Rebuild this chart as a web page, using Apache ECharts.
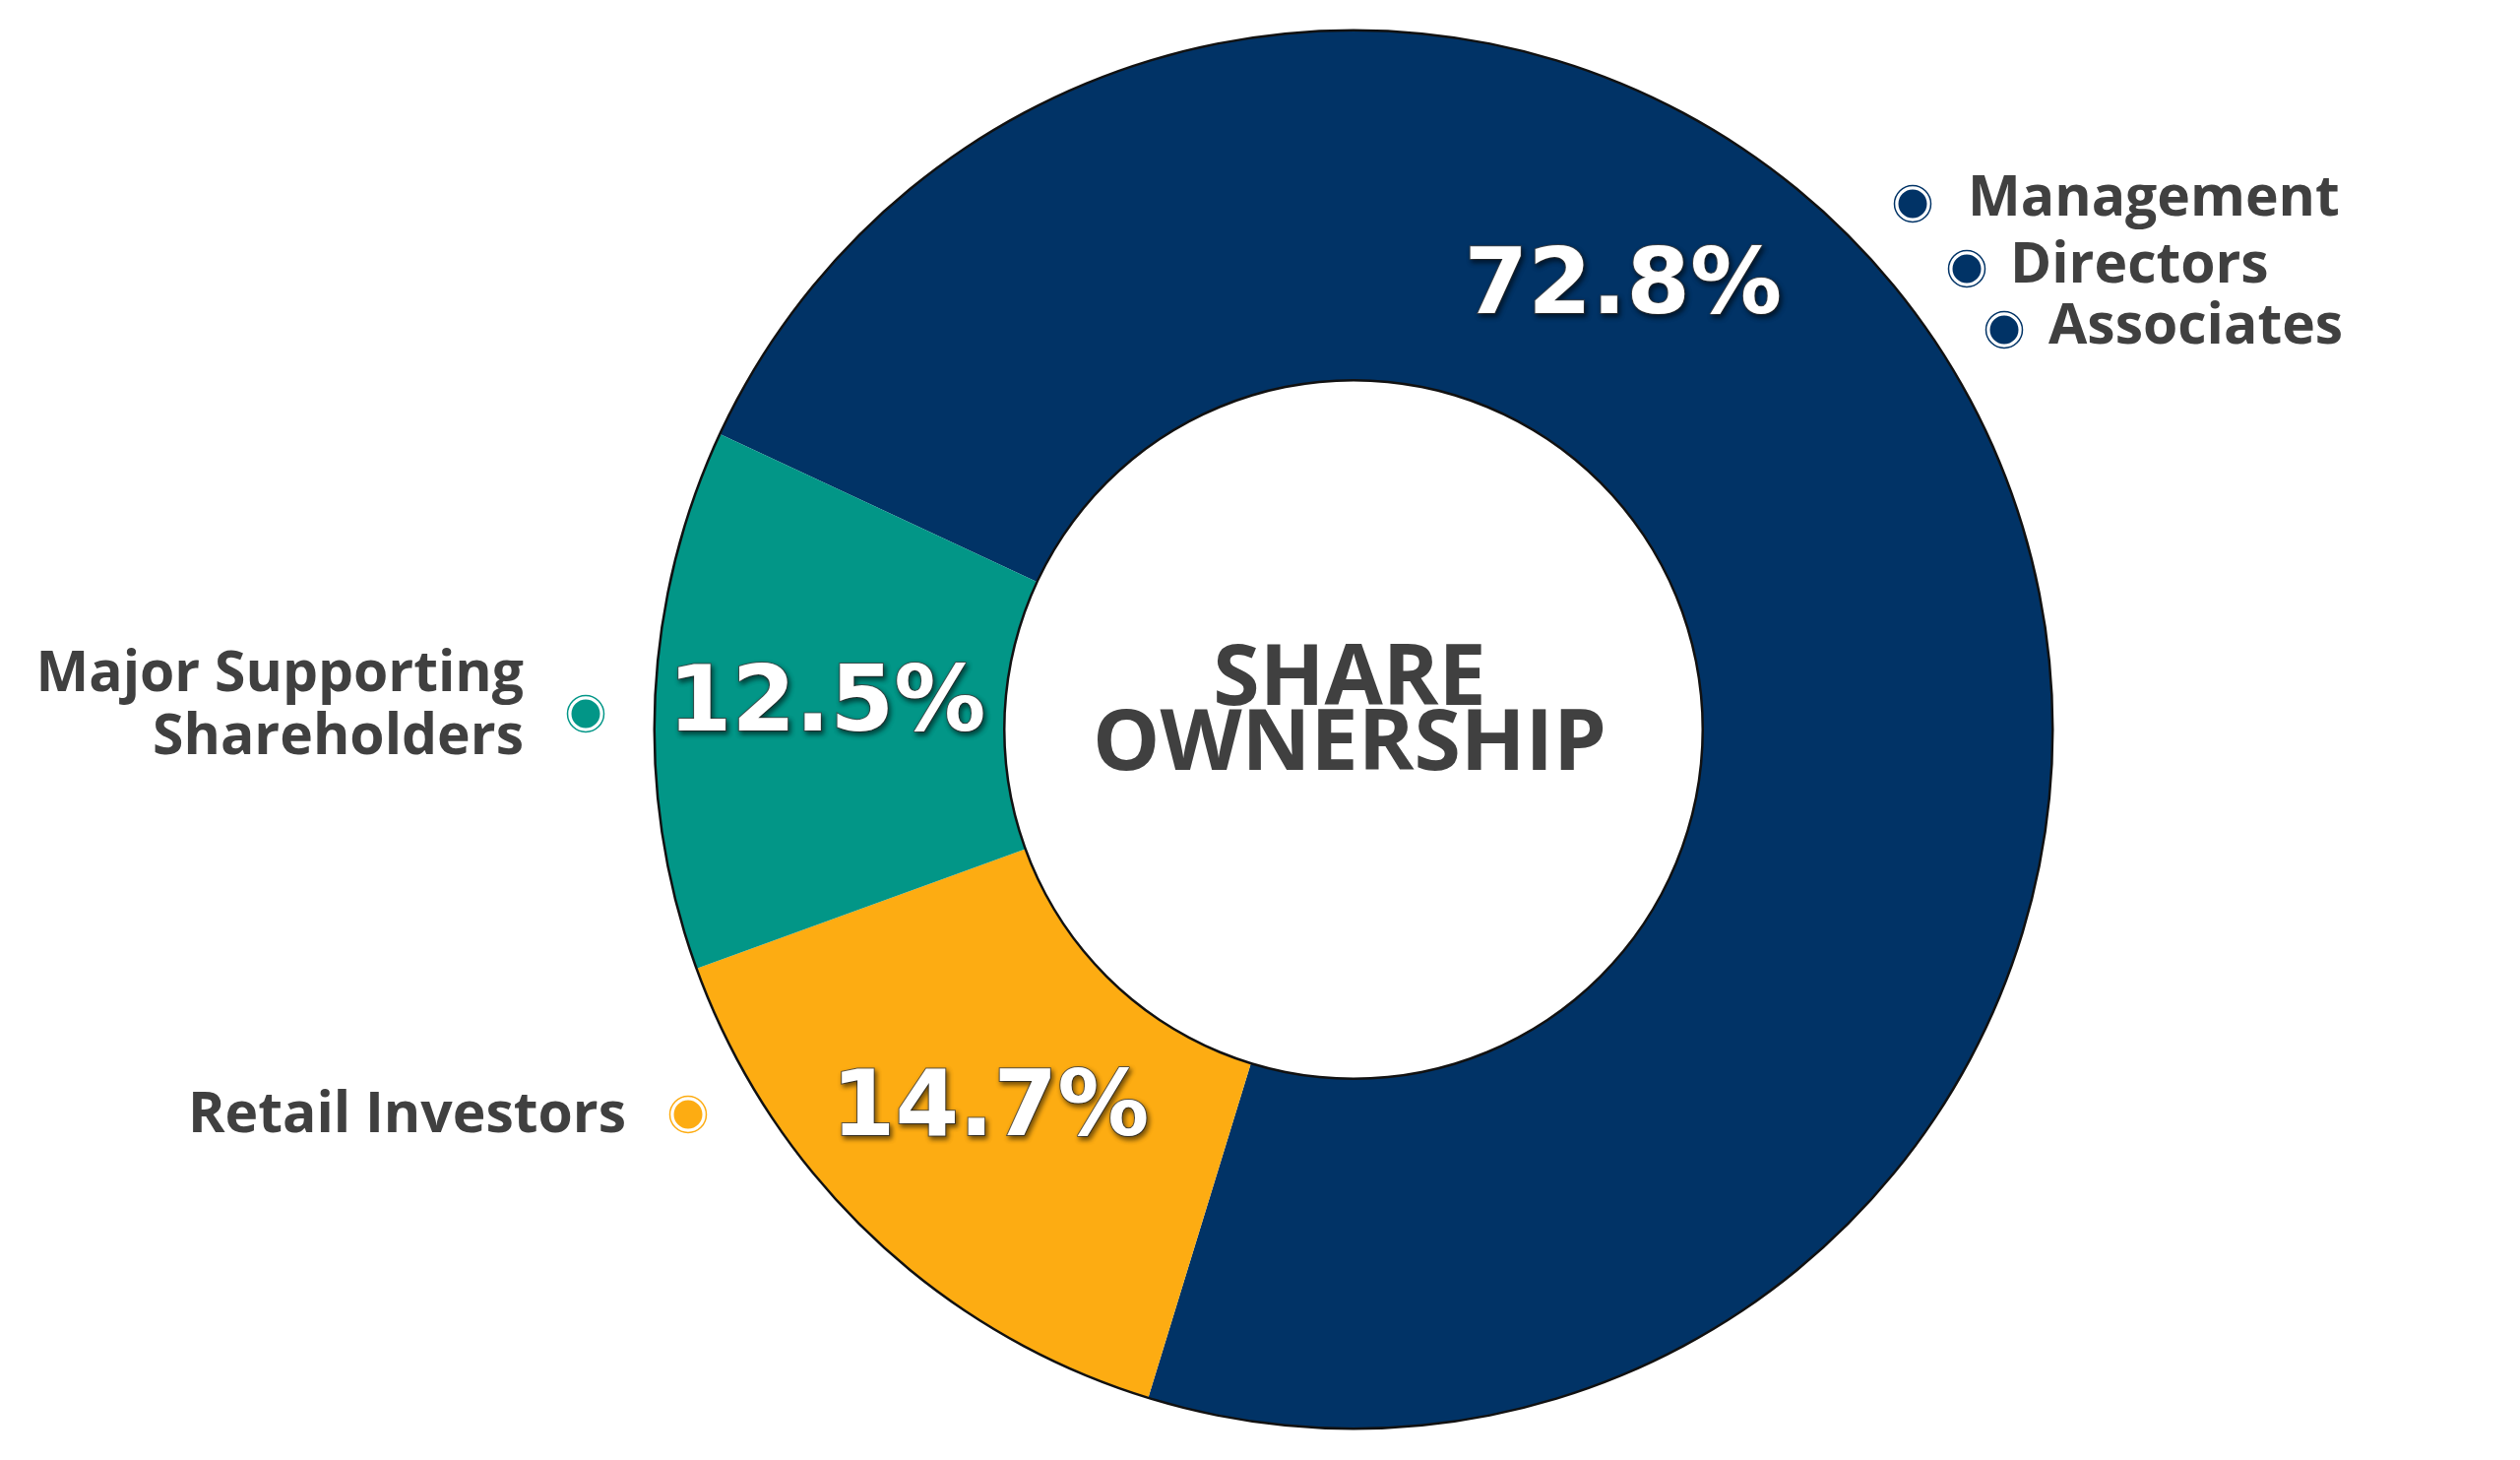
<!DOCTYPE html>
<html>
<head>
<meta charset="utf-8">
<script src="https://cdn.jsdelivr.net/npm/echarts@6/dist/echarts.min.js"></script>
<style>
  html, body { margin: 0; padding: 0; background: #ffffff; }
  #chart { width: 2560px; height: 1483px; }
</style>
</head>
<body>
<div id="chart"></div>
<script>
// ---- data ----
const sliceNames = ['Management, Directors, Associates', 'Retail Investors', 'Major Supporting Shareholders'];
const sliceValues = [72.8, 14.7, 12.5];
const navyGroupLabels = ['Management', 'Directors', 'Associates'];
const supportLabel = 'Major Supporting\nShareholders';
const retailLabel = 'Retail Investors';
const centerTitle = 'SHARE\nOWNERSHIP';

// ---- style ----
const sliceColors = ['#013366', '#FDAC12', '#029687'];
const textGray = '#404040';
const CX = 1375, CY = 741, R_OUT = 710, R_IN = 355;

const chart = echarts.init(document.getElementById('chart'), null, { renderer: 'canvas' });

function marker(x, y, color) {
  return [
    { type: 'circle', shape: { cx: x, cy: y, r: 18.5 }, style: { fill: 'none', stroke: color, lineWidth: 1.5 }, silent: true },
    { type: 'circle', shape: { cx: x, cy: y, r: 15.5 }, style: { fill: color, stroke: '#ffffff', lineWidth: 2 }, silent: true }
  ];
}
const labelFont = 'bold 57px "Open Sans"';

const graphics = [
  { type: 'text', x: 1371, y: 724, style: { text: centerTitle, fill: textGray, font: 'bold 86px "Open Sans"', align: 'center', verticalAlign: 'middle', lineHeight: 66 }, silent: true },
  { type: 'text', x: 1999, y: 203, style: { text: navyGroupLabels[0], fill: textGray, font: labelFont, align: 'left', verticalAlign: 'middle' }, silent: true },
  { type: 'text', x: 2042, y: 271, style: { text: navyGroupLabels[1], fill: textGray, font: labelFont, align: 'left', verticalAlign: 'middle' }, silent: true },
  { type: 'text', x: 2081, y: 333, style: { text: navyGroupLabels[2], fill: textGray, font: labelFont, align: 'left', verticalAlign: 'middle' }, silent: true },
  { type: 'text', x: 532, y: 718, style: { text: supportLabel, fill: textGray, font: labelFont, align: 'right', verticalAlign: 'middle', lineHeight: 64 }, silent: true },
  { type: 'text', x: 636, y: 1134, style: { text: retailLabel, fill: textGray, font: labelFont, align: 'right', verticalAlign: 'middle' }, silent: true }
].concat(marker(1943, 207, sliceColors[0]))
 .concat(marker(1998, 273, sliceColors[0]))
 .concat(marker(2036, 335, sliceColors[0]))
 .concat(marker(595, 725, sliceColors[2]))
 .concat(marker(699, 1132, sliceColors[1]));

const option = {
  backgroundColor: '#ffffff',
  animation: false,
  graphic: graphics,
  series: [
    {
      type: 'pie',
      center: [CX, CY],
      radius: [R_IN, R_OUT],
      startAngle: 155,
      clockwise: true,
      silent: true,
      itemStyle: { borderWidth: 0 },
      data: sliceNames.map((n, i) => ({ name: n, value: sliceValues[i], itemStyle: { color: sliceColors[i] } })),
      label: {
        show: true,
        position: 'inside',
        formatter: p => p.value.toFixed(1) + '%',
        color: '#ffffff',
        fontFamily: '"DejaVu Sans"',
        fontWeight: 'bold',
        fontSize: 93,
        textBorderColor: 'rgba(70,70,70,0.85)',
        textBorderWidth: 2,
        textShadowColor: 'rgba(0,0,0,0.55)',
        textShadowBlur: 5,
        textShadowOffsetX: 2,
        textShadowOffsetY: 3
      },
      labelLine: { show: false },
      labelLayout: function (p) {
        if (p.dataIndex === 0) {
          const a = 58.5 * Math.PI / 180, r = 524;
          return { x: CX + r * Math.cos(a), y: CY - r * Math.sin(a), align: 'center', verticalAlign: 'middle' };
        }
      }
    },
    {
      type: 'pie', center: [CX, CY], radius: [R_OUT - 1, R_OUT + 1.5], silent: true,
      label: { show: false }, labelLine: { show: false },
      itemStyle: { color: '#111111', borderWidth: 0 },
      data: [{ value: 1, name: 'outline' }]
    },
    {
      type: 'pie', center: [CX, CY], radius: [R_IN - 1.5, R_IN + 1], silent: true,
      label: { show: false }, labelLine: { show: false },
      itemStyle: { color: '#111111', borderWidth: 0 },
      data: [{ value: 1, name: 'inline' }]
    }
  ]
};
chart.setOption(option);
</script>
</body>
</html>
